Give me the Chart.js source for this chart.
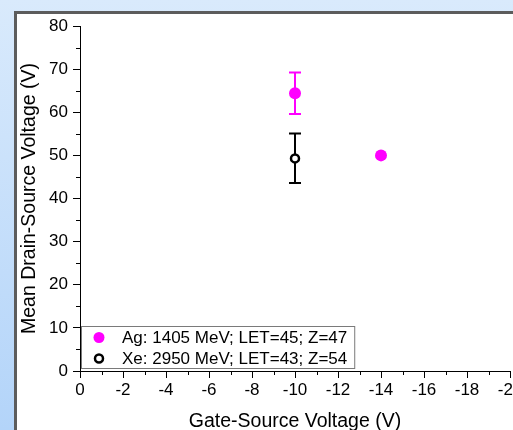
<!DOCTYPE html>
<html><head><meta charset="utf-8">
<script src="https://cdn.jsdelivr.net/npm/chart.js@4.4.0/dist/chart.umd.min.js"></script>
<style>
html,body{margin:0;padding:0;width:513px;height:430px;overflow:hidden;}
body{background:linear-gradient(to bottom,#d9eafc,#b3d4f9);position:relative;}
#panel{position:absolute;left:14px;top:11px;width:600px;height:500px;background:#fff;border-top:3px solid #5c5c5c;border-left:3px solid #5c5c5c;box-sizing:border-box;}
#c{position:absolute;left:0;top:0;}
</style></head><body>
<div id="panel"></div>
<canvas id="c" width="540" height="460"></canvas>
<script>
// ---- data ----
const xMajorTicks = [0, -2, -4, -6, -8, -10, -12, -14, -16, -18, -20];
const xMinorTicks = [-1, -3, -5, -7, -9, -11, -13, -15, -17, -19];
const yMajorTicks = [0, 10, 20, 30, 40, 50, 60, 70, 80];
const yMinorTicks = [5, 15, 25, 35, 45, 55, 65, 75];
const agX = [-10, -14];
const agY = [64.4, 50.0];
const agErrLow = [59.6, null];
const agErrHigh = [69.2, null];
const xeX = [-10];
const xeY = [49.3];
const xeErrLow = [43.6];
const xeErrHigh = [55.1];
const seriesLabels = ['Ag: 1405 MeV; LET=45; Z=47', 'Xe: 2950 MeV; LET=43; Z=54'];
const xAxisTitle = 'Gate-Source Voltage (V)';
const yAxisTitle = 'Mean Drain-Source Voltage (V)';

const FAMILY = "'Liberation Sans', Arial, sans-serif";
const MAGENTA = '#ff00ff';
Chart.defaults.font.family = FAMILY;
Chart.defaults.color = '#000';

const errorBars = {
  id: 'errorBars',
  beforeDatasetsDraw(chart) {
    const {ctx, scales: {x, y}} = chart;
    const sets = [
      {xs: agX, lo: agErrLow, hi: agErrHigh, color: MAGENTA},
      {xs: xeX, lo: xeErrLow, hi: xeErrHigh, color: '#000'}
    ];
    ctx.save();
    ctx.lineWidth = 2;
    sets.forEach(s => {
      ctx.strokeStyle = s.color;
      s.xs.forEach((xv, i) => {
        if (s.lo[i] == null) return;
        const px = x.getPixelForValue(xv);
        const p1 = y.getPixelForValue(s.lo[i]);
        const p2 = y.getPixelForValue(s.hi[i]);
        ctx.beginPath();
        ctx.moveTo(px, p1); ctx.lineTo(px, p2);
        ctx.moveTo(px - 6, p1); ctx.lineTo(px + 6, p1);
        ctx.moveTo(px - 6, p2); ctx.lineTo(px + 6, p2);
        ctx.stroke();
      });
    });
    ctx.restore();
  }
};

const minorTicks = {
  id: 'minorTicks',
  afterDraw(chart) {
    const {ctx, scales: {x, y}} = chart;
    ctx.save();
    ctx.strokeStyle = '#000';
    ctx.lineWidth = 1;
    xMinorTicks.forEach(v => {
      const px = Math.round(x.getPixelForValue(v)) + 0.5;
      ctx.beginPath(); ctx.moveTo(px, y.bottom); ctx.lineTo(px, y.bottom + 4); ctx.stroke();
    });
    yMinorTicks.forEach(v => {
      const py = Math.round(y.getPixelForValue(v)) + 0.5;
      ctx.beginPath(); ctx.moveTo(x.left - 4, py); ctx.lineTo(x.left, py); ctx.stroke();
    });
    ctx.restore();
  }
};

const legendBox = {
  id: 'legendBox',
  afterDraw(chart) {
    const {ctx, chartArea} = chart;
    ctx.save();
    ctx.font = '17px ' + FAMILY;
    const tw = Math.max(...seriesLabels.map(t => ctx.measureText(t).width));
    const left = chartArea.left + 1.5;
    const bottom = chartArea.bottom - 2.5;
    const h = 42, w = tw + 48;
    const top = bottom - h;
    ctx.fillStyle = '#fff';
    ctx.fillRect(left, top, w, h);
    ctx.strokeStyle = '#7a7a7a';
    ctx.lineWidth = 1;
    ctx.strokeRect(left, top, w, h);
    const rows = [top + 11, top + 32];
    // Ag marker
    ctx.fillStyle = MAGENTA;
    ctx.beginPath(); ctx.arc(left + 17.5, rows[0], 5.5, 0, Math.PI * 2); ctx.fill();
    // Xe marker
    ctx.fillStyle = '#fff'; ctx.strokeStyle = '#000'; ctx.lineWidth = 2.5;
    ctx.beginPath(); ctx.arc(left + 17.5, rows[1], 4, 0, Math.PI * 2); ctx.fill(); ctx.stroke();
    ctx.fillStyle = '#000';
    ctx.textBaseline = 'middle';
    ctx.textAlign = 'left';
    seriesLabels.forEach((t, i) => ctx.fillText(t, left + 40.5, rows[i] + 1));
    ctx.restore();
  }
};

new Chart(document.getElementById('c'), {
  type: 'scatter',
  data: {
    datasets: [
      {label: seriesLabels[0], data: agX.map((v, i) => ({x: v, y: agY[i]})),
       pointRadius: 6, pointBackgroundColor: MAGENTA, pointBorderColor: MAGENTA, pointBorderWidth: 0, showLine: false},
      {label: seriesLabels[1], data: xeX.map((v, i) => ({x: v, y: xeY[i]})),
       pointRadius: 4, pointBackgroundColor: '#fff', pointBorderColor: '#000', pointBorderWidth: 2.5, showLine: false}
    ]
  },
  options: {
    responsive: false,
    animation: false,
    layout: {padding: {left: 0, top: 26, right: 30, bottom: 0}},
    plugins: {legend: {display: false}, tooltip: {enabled: false}},
    scales: {
      x: {
        type: 'linear', min: -20, max: 0, reverse: true,
        afterBuildTicks: s => { s.ticks = xMajorTicks.map(v => ({value: v})); },
        ticks: {font: {size: 17}, color: '#000', padding: 2, maxRotation: 0, autoSkip: false},
        grid: {drawOnChartArea: false, drawTicks: true, tickLength: 7, tickColor: '#000', color: '#000'},
        border: {color: '#000', width: 1},
        title: {display: true, text: xAxisTitle, font: {size: 19.5}, color: '#000', padding: {top: 0, bottom: 27}},
        afterFit: s => { s.height = 89; }
      },
      y: {
        type: 'linear', min: 0, max: 80,
        afterBuildTicks: s => { s.ticks = yMajorTicks.map(v => ({value: v})); },
        ticks: {font: {size: 17}, color: '#000', padding: 5},
        grid: {drawOnChartArea: false, drawTicks: true, tickLength: 7, tickColor: '#000', color: '#000'},
        border: {color: '#000', width: 1},
        title: {display: true, text: yAxisTitle, font: {size: 19.5}, color: '#000', padding: {top: 18, bottom: 0}},
        afterFit: s => { s.width = 80; }
      }
    }
  },
  plugins: [errorBars, minorTicks, legendBox]
});
</script>
</body></html>
